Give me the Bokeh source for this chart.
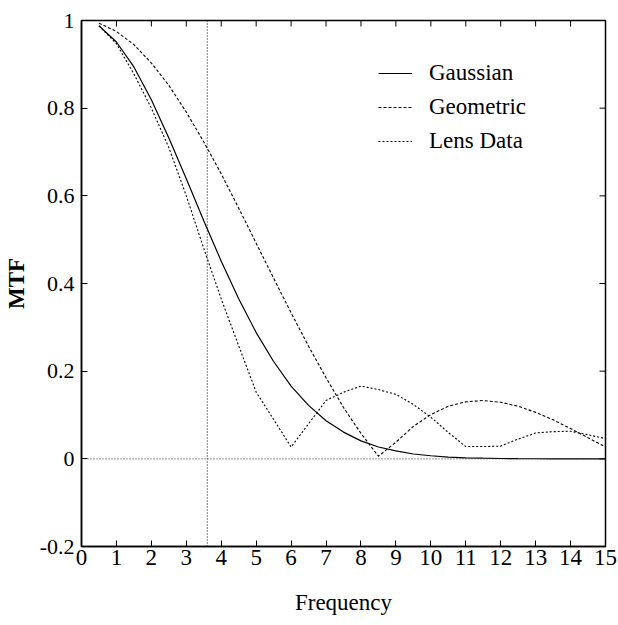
import math
from bokeh.plotting import figure
from bokeh.models import Span, Legend, LegendItem, FixedTicker, Range1d
from bokeh.embed import file_html
from bokeh.resources import INLINE

# ---- data ----
freq = [0.5, 1.0, 1.5, 2.0, 2.5, 3.0, 3.5, 4.0, 4.5, 5.0, 5.5, 6.0, 6.5, 7.0, 7.5,
        8.0, 8.5, 9.0, 9.5, 10.0, 10.5, 11.0, 11.5, 12.0, 12.5, 13.0, 13.5, 14.0,
        14.5, 15.0]
gaussian = [0.988, 0.951, 0.894, 0.819, 0.732, 0.639, 0.543, 0.451, 0.365, 0.288,
            0.222, 0.166, 0.122, 0.087, 0.061, 0.041, 0.027, 0.018, 0.011, 0.007,
            0.004, 0.0024, 0.0014, 0.0008, 0.0004, 0.0002, 0.0001, 0.0, 0.0, 0.0]
geometric = [0.994, 0.975, 0.945, 0.903, 0.852, 0.791, 0.723, 0.650, 0.572, 0.492,
             0.412, 0.333, 0.257, 0.185, 0.117, 0.058, 0.006, 0.038, 0.074, 0.101,
             0.120, 0.130, 0.133, 0.129, 0.120, 0.106, 0.089, 0.069, 0.048, 0.027]
lens_data = [0.988, 0.947, 0.878, 0.800, 0.710, 0.600, 0.480, 0.365, 0.258, 0.152,
             0.090, 0.027, 0.080, 0.133, 0.152, 0.166, 0.158, 0.147, 0.124, 0.095,
             0.060, 0.028, 0.028, 0.029, 0.045, 0.059, 0.062, 0.063, 0.055, 0.046]
marker_freq = 3.6
x_ticks = list(range(0, 16))
y_ticks = [-0.2, 0.0, 0.2, 0.4, 0.6, 0.8, 1.0]
y_tick_labels = ["-0.2", "0", "0.2", "0.4", "0.6", "0.8", "1"]
series_names = ["Gaussian", "Geometric", "Lens Data"]
x_lo, x_hi = 0, 15
y_lo, y_hi = -0.2, 1.0

FONT = "Liberation Serif"

p = figure(width=618, height=625, output_backend="svg", toolbar_location=None,
           x_range=Range1d(x_lo, x_hi), y_range=Range1d(y_lo, y_hi),
           min_border_left=81, min_border_right=13, min_border_top=20,
           min_border_bottom=79)
p.grid.visible = False
p.outline_line_color = "black"
p.outline_line_width = 1.5
p.background_fill_color = "white"
p.border_fill_color = "white"

# bottom axis
xa = p.xaxis[0]
xa.ticker = FixedTicker(ticks=x_ticks)
xa.major_tick_in = 6
xa.major_tick_out = 0
xa.minor_tick_in = 0
xa.minor_tick_out = 0
xa.axis_line_width = 1.5
xa.major_label_standoff = 3
xa.major_label_text_font = FONT
xa.major_label_text_font_size = "23px"
xa.major_label_text_color = "black"
xa.axis_label = "Frequency"
xa.axis_label_text_font = FONT
xa.axis_label_text_font_size = "23px"
xa.axis_label_text_font_style = "normal"
xa.axis_label_text_color = "black"
xa.axis_label_standoff = 22

# left axis
ya = p.yaxis[0]
ya.ticker = FixedTicker(ticks=y_ticks)
ya.major_label_overrides = {t: s for t, s in zip(y_ticks, y_tick_labels)}
ya.major_tick_in = 6
ya.major_tick_out = 0
ya.minor_tick_in = 0
ya.minor_tick_out = 0
ya.axis_line_width = 1.5
ya.major_label_standoff = 7
ya.major_label_text_font = FONT
ya.major_label_text_font_size = "22px"
ya.major_label_text_color = "black"
ya.axis_label = "MTF"
ya.axis_label_text_font = FONT
ya.axis_label_text_font_size = "23px"
ya.axis_label_text_font_style = "bold"
ya.axis_label_text_color = "black"
ya.axis_label_standoff = 8

# mirrored inward ticks on top and right edges
p.ray(x=x_ticks, y=[y_hi] * len(x_ticks), length=6, length_units="screen",
      angle=-math.pi / 2, line_color="black", line_width=1)
p.ray(x=[x_hi] * len(y_ticks), y=y_ticks, length=6, length_units="screen",
      angle=math.pi, line_color="black", line_width=1)

# reference lines
p.add_layout(Span(location=marker_freq, dimension="height", line_color="black",
                  line_width=1, line_dash="1 2"))
p.add_layout(Span(location=0, dimension="width", line_color="#333333",
                  line_width=1, line_dash="1 2"))

r1 = p.line(freq, gaussian, line_color="black", line_width=1.2)
r2 = p.line(freq, geometric, line_color="black", line_width=1.1, line_dash="3 2")
r3 = p.line(freq, lens_data, line_color="black", line_width=1.1, line_dash="2 2")

legend = Legend(items=[LegendItem(label=series_names[0], renderers=[r1]),
                       LegendItem(label=series_names[1], renderers=[r2]),
                       LegendItem(label=series_names[2], renderers=[r3])],
                location=(297, 392), border_line_color=None,
                background_fill_alpha=0, padding=0, margin=0, spacing=8,
                glyph_width=34, glyph_height=20, label_height=20,
                label_standoff=17, label_text_font=FONT,
                label_text_font_size="23px", label_text_color="black")
p.add_layout(legend)

open("out.html", "w").write(file_html(p, INLINE))
